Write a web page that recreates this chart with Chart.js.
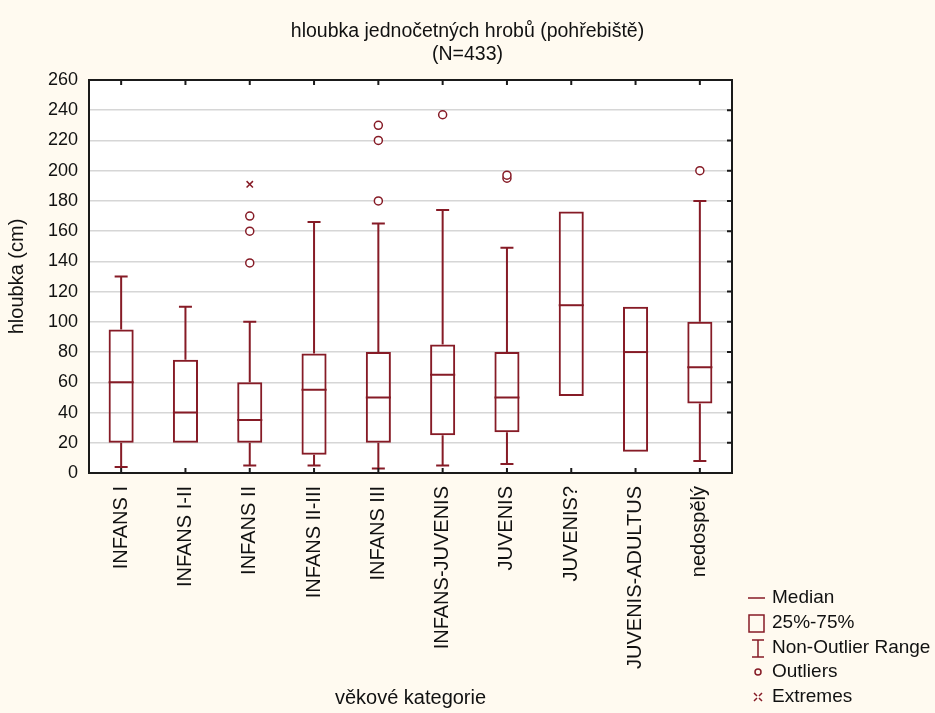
<!DOCTYPE html>
<html>
<head>
<meta charset="utf-8">
<script src="https://cdn.jsdelivr.net/npm/chart.js@4.4.1/dist/chart.umd.min.js"></script>
<style>
  html, body { margin: 0; padding: 0; background: #fffaf0; }
  #wrap { width: 935px; height: 713px; position: relative; }
</style>
</head>
<body>
<div id="wrap"><canvas id="graf"></canvas></div>
<script>
// kategorie a hodnoty (cm)
const kategorie = ["INFANS I", "INFANS I-II", "INFANS II", "INFANS II-III", "INFANS III",
  "INFANS-JUVENIS", "JUVENIS", "JUVENIS?", "JUVENIS-ADULTUS", "nedospělý"];
const minima  = [4, 20, 5, 5, 3, 5, 6, 51, 14, 8];
const kvartil1 = [20, 20, 20, 12, 20, 25, 27, 51, 14, 46];
const mediany = [60, 40, 35, 55, 50, 65, 50, 111, 80, 70];
const kvartil3 = [95, 75, 60, 79, 80, 85, 80, 173, 110, 100];
const maxima  = [130, 110, 100, 166, 165, 174, 149, 173, 110, 180];

// odlehlé a extrémní hodnoty
const odlehleKat = ["INFANS II", "INFANS II", "INFANS II", "INFANS III", "INFANS III", "INFANS III",
  "INFANS-JUVENIS", "JUVENIS", "JUVENIS", "nedospělý"];
const odlehleHod = [139, 160, 170, 180, 220, 230, 237, 195, 197, 200];
const extremyKat = ["INFANS II"];
const extremyHod = [191];

const yTicks = [0, 20, 40, 60, 80, 100, 120, 140, 160, 180, 200, 220, 240, 260];

const CERVENA = "#861b26";
const PISMO = "'Liberation Sans', Arial, sans-serif";

// vousy a mediány
const krabicePlugin = {
  id: "krabice",
  afterDatasetsDraw(chart) {
    const ctx = chart.ctx;
    const x = chart.scales.x, y = chart.scales.y;
    const bary = chart.getDatasetMeta(0).data;
    ctx.save();
    ctx.strokeStyle = CERVENA;
    ctx.lineWidth = 2;
    kategorie.forEach((k, i) => {
      const px = x.getPixelForValue(i);
      const sirka = bary[i].width;
      const cap = 6.5;
      ctx.beginPath();
      if (minima[i] < kvartil1[i]) {
        ctx.moveTo(px, y.getPixelForValue(kvartil1[i]));
        ctx.lineTo(px, y.getPixelForValue(minima[i]));
        ctx.moveTo(px - cap, y.getPixelForValue(minima[i]));
        ctx.lineTo(px + cap, y.getPixelForValue(minima[i]));
      }
      if (maxima[i] > kvartil3[i]) {
        ctx.moveTo(px, y.getPixelForValue(kvartil3[i]));
        ctx.lineTo(px, y.getPixelForValue(maxima[i]));
        ctx.moveTo(px - cap, y.getPixelForValue(maxima[i]));
        ctx.lineTo(px + cap, y.getPixelForValue(maxima[i]));
      }
      const my = y.getPixelForValue(mediany[i]);
      ctx.moveTo(px - sirka / 2, my);
      ctx.lineTo(px + sirka / 2, my);
      ctx.stroke();
    });
    ctx.restore();
  }
};

// pozadí, rámeček s vnitřními značkami a legenda
const ramecekPlugin = {
  id: "ramecek",
  beforeDraw(chart) {
    const ctx = chart.ctx, a = chart.chartArea;
    ctx.save();
    ctx.fillStyle = "#fffaf0";
    ctx.fillRect(0, 0, chart.width, chart.height);
    ctx.fillStyle = "#ffffff";
    ctx.fillRect(a.left, a.top, a.right - a.left, a.bottom - a.top);
    ctx.restore();
  },
  afterDraw(chart) {
    const ctx = chart.ctx, a = chart.chartArea;
    const x = chart.scales.x, y = chart.scales.y;
    ctx.save();
    ctx.strokeStyle = "#1a1a1a";
    ctx.lineWidth = 2;
    ctx.strokeRect(a.left, a.top, a.right - a.left, a.bottom - a.top);
    ctx.beginPath();
    kategorie.forEach((k, i) => {
      const px = x.getPixelForValue(i);
      ctx.moveTo(px, a.top); ctx.lineTo(px, a.top + 5);
      ctx.moveTo(px, a.bottom); ctx.lineTo(px, a.bottom - 5);
    });
    yTicks.forEach(v => {
      const py = y.getPixelForValue(v);
      ctx.moveTo(a.right, py); ctx.lineTo(a.right - 5, py);
    });
    ctx.stroke();

    // legenda
    const lx = 758, tx = 772;
    const radky = [598, 623, 648, 672, 697];
    ctx.font = "19px " + PISMO;
    ctx.fillStyle = "#111";
    ctx.textBaseline = "middle";
    ctx.textAlign = "left";
    ["Median", "25%-75%", "Non-Outlier Range", "Outliers", "Extremes"].forEach((t, i) => {
      ctx.fillText(t, tx, radky[i]);
    });
    ctx.strokeStyle = CERVENA;
    ctx.lineWidth = 1.5;
    ctx.beginPath();
    ctx.moveTo(748, radky[0]); ctx.lineTo(765, radky[0]);
    ctx.rect(749, radky[1] - 8, 15, 17);
    ctx.moveTo(lx, radky[2] - 8); ctx.lineTo(lx, radky[2] + 9);
    ctx.moveTo(lx - 6, radky[2] - 8); ctx.lineTo(lx + 6, radky[2] - 8);
    ctx.moveTo(lx - 6, radky[2] + 9); ctx.lineTo(lx + 6, radky[2] + 9);
    ctx.stroke();
    ctx.beginPath();
    ctx.arc(lx, radky[3], 3, 0, Math.PI * 2);
    ctx.stroke();
    ctx.beginPath();
    ctx.moveTo(lx - 4, radky[4] - 4); ctx.lineTo(lx - 1, radky[4] - 1);
    ctx.moveTo(lx + 4, radky[4] - 4); ctx.lineTo(lx + 1, radky[4] - 1);
    ctx.moveTo(lx - 4, radky[4] + 4); ctx.lineTo(lx - 1, radky[4] + 1);
    ctx.moveTo(lx + 4, radky[4] + 4); ctx.lineTo(lx + 1, radky[4] + 1);
    ctx.stroke();
    ctx.restore();
  }
};

new Chart(document.getElementById("graf"), {
  type: "bar",
  data: {
    labels: kategorie,
    datasets: [
      {
        label: "25%-75%",
        data: kvartil1.map((v, i) => [v, kvartil3[i]]),
        backgroundColor: "rgba(0,0,0,0)",
        borderColor: CERVENA,
        borderWidth: 2,
        borderSkipped: false,
        barPercentage: 0.39,
        categoryPercentage: 1
      },
      {
        type: "line",
        label: "Outliers",
        data: odlehleKat.map((k, i) => ({ x: k, y: odlehleHod[i] })),
        showLine: false,
        pointStyle: "circle",
        pointRadius: 4,
        pointBorderWidth: 1.5,
        pointBorderColor: CERVENA,
        pointBackgroundColor: "#ffffff"
      },
      {
        type: "line",
        label: "Extremes",
        data: extremyKat.map((k, i) => ({ x: k, y: extremyHod[i] })),
        showLine: false,
        pointStyle: "crossRot",
        pointRadius: 4.5,
        pointBorderWidth: 1.5,
        pointBorderColor: CERVENA
      }
    ]
  },
  options: {
    responsive: true,
    maintainAspectRatio: false,
    animation: false,
    layout: { padding: 0 },
    plugins: {
      legend: { display: false },
      tooltip: { enabled: false },
      title: {
        display: true,
        text: ["hloubka jednočetných hrobů (pohřebiště)", "(N=433)"],
        color: "#111",
        font: { family: PISMO, size: 19.5, weight: "normal", lineHeight: 23 / 19.5 },
        padding: { top: 20.5, bottom: 13.5 }
      }
    },
    scales: {
      x: {
        grid: { display: false, drawTicks: false },
        border: { display: false },
        ticks: {
          color: "#111",
          font: { family: PISMO, size: 20 },
          maxRotation: 90,
          minRotation: 90,
          padding: 13,
          autoSkip: false
        },
        title: {
          display: true,
          text: "věkové kategorie",
          color: "#111",
          font: { family: PISMO, size: 20, lineHeight: 1.2 },
          padding: { top: 0, bottom: 3 }
        },
        afterFit(scale) { scale.height = 240; }
      },
      y: {
        min: 0,
        max: 260,
        grid: { color: "#d6d6d6", lineWidth: 1.5, drawTicks: false },
        border: { display: false },
        ticks: {
          stepSize: 20,
          color: "#111",
          font: { family: PISMO, size: 18 },
          padding: 11
        },
        title: {
          display: true,
          text: "hloubka (cm)",
          color: "#111",
          font: { family: PISMO, size: 20, lineHeight: 1.2 },
          padding: { top: 5, bottom: 0 }
        },
        afterFit(scale) { scale.width = 89; }
      },
      // prázdný pravý okraj pro legendu
      y2: {
        position: "right",
        min: 0,
        max: 260,
        grid: { display: false, drawTicks: false },
        border: { display: false },
        ticks: { display: false },
        afterFit(scale) { scale.width = 203; }
      }
    }
  },
  plugins: [krabicePlugin, ramecekPlugin]
});
</script>
</body>
</html>
